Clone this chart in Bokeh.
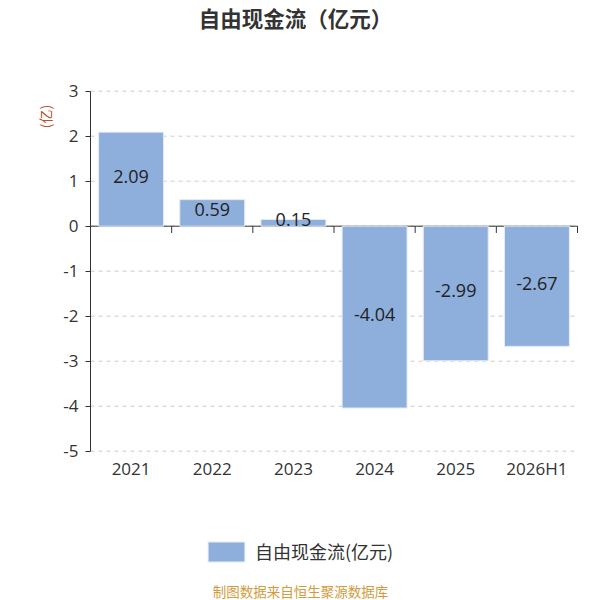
from bokeh.plotting import figure
from bokeh.models import (Range1d, Legend, LegendItem, ColumnDataSource, FixedTicker, Label)
from bokeh.core.properties import value
from bokeh.embed import file_html
from bokeh.resources import INLINE

categories = ["2021", "2022", "2023", "2024", "2025", "2026H1"]
values = [2.09, 0.59, 0.15, -4.04, -2.99, -2.67]
value_labels = ["2.09", "0.59", "0.15", "-4.04", "-2.99", "-2.67"]
y_ticks = [-5, -4, -3, -2, -1, 0, 1, 2, 3]
title_text = "自由现金流（亿元）"
series_name = "自由现金流(亿元)"
unit_text = "(亿)"
source_text = "制图数据来自恒生聚源数据库"

W = H = 600
# pixel placement of the plotting area inside the canvas
PLOT_LEFT, PLOT_RIGHT, PLOT_TOP, PLOT_BOTTOM = 90, 577, 90.7, 450.7

n = len(categories)
xs = list(range(n))
src = ColumnDataSource(dict(x=xs, top=values, mid=[v / 2 for v in values], lab=value_labels))

x0, x1 = -0.5, n - 0.5
y0, y1 = y_ticks[0], y_ticks[-1]
xpx = (PLOT_RIGHT - PLOT_LEFT) / (x1 - x0)
ypx = (PLOT_BOTTOM - PLOT_TOP) / (y1 - y0)
x_range = Range1d(x0 - PLOT_LEFT / xpx, x1 + (W - PLOT_RIGHT) / xpx)
y_range = Range1d(y0 - (H - PLOT_BOTTOM) / ypx, y1 + PLOT_TOP / ypx)

p = figure(width=W, height=H, output_backend="svg", toolbar_location=None, title=None,
           x_range=x_range, y_range=y_range,
           min_border_left=0, min_border_right=0, min_border_top=0, min_border_bottom=0)
p.outline_line_color = None
p.background_fill_color = "white"
p.border_fill_color = "white"
p.xgrid.visible = False
p.ygrid.visible = False

# dashed horizontal grid lines across the plotting area
p.segment(x0=[x0] * len(y_ticks), y0=y_ticks, x1=[x1] * len(y_ticks), y1=y_ticks,
          line_color="#cccccc", line_dash="4 4", line_width=1)

# y axis
p.yaxis.fixed_location = x0
p.yaxis.ticker = FixedTicker(ticks=y_ticks)
p.yaxis.bounds = (y0, y1)
p.yaxis.major_label_overrides = {t: str(t) for t in y_ticks}
p.yaxis.axis_line_color = "#333333"
p.yaxis.major_tick_line_color = "#333333"
p.yaxis.major_tick_out = 5
p.yaxis.major_tick_in = 0
p.yaxis.minor_tick_line_color = None
p.yaxis.major_label_text_font = "Open Sans"
p.yaxis.major_label_text_font_size = "17px"
p.yaxis.major_label_text_color = "#333333"
p.yaxis.major_label_standoff = 7

# x axis (category labels under the plotting area)
p.xaxis.fixed_location = y0
p.xaxis.ticker = FixedTicker(ticks=xs)
p.xaxis.major_label_overrides = {i: c for i, c in zip(xs, categories)}
p.xaxis.axis_line_color = None
p.xaxis.major_tick_line_color = None
p.xaxis.minor_tick_line_color = None
p.xaxis.major_label_text_font = "Open Sans"
p.xaxis.major_label_text_font_size = "17px"
p.xaxis.major_label_text_color = "#333333"
p.xaxis.major_label_standoff = 0

# zero axis line + boundary ticks
bounds = [i - 0.5 for i in range(n + 1)]
p.segment(x0=[x0], y0=[0], x1=[x1], y1=[0], line_color="#333333", line_width=1)
p.segment(x0=bounds, y0=[0] * len(bounds), x1=bounds, y1=[-0.15] * len(bounds),
          line_color="#333333", line_width=1)

bars = p.vbar(x="x", top="top", bottom=0, width=0.8, source=src,
              fill_color="#8eaedc", line_color="#e4ebf6", line_width=1)

p.text(x="x", y="mid", text="lab", source=src, text_align="center", text_baseline="middle",
       y_offset=-3, text_font=value("Open Sans"), text_font_size="18px", text_color="#222222")

# title
p.add_layout(Label(x=295, y=H - 17, x_units="screen", y_units="screen", text=title_text,
                   text_align="center", text_baseline="middle",
                   text_font="Noto Sans CJK SC", text_font_size="21.5px",
                   text_font_style="bold", text_color="#333333"))

# unit label
p.add_layout(Label(x=44.5, y=H - 116, x_units="screen", y_units="screen", text=unit_text,
                   angle=1.5708, text_align="center", text_baseline="middle",
                   text_font="Noto Sans CJK SC", text_font_size="14px", text_color="#b5532f"))

# legend (area glyph is drawn inset by 10% of its box)
legend = Legend(items=[LegendItem(label=series_name, renderers=[bars])],
                location=(203, H - 564), orientation="horizontal",
                glyph_width=46, glyph_height=25, label_height=25, padding=0, margin=0,
                label_standoff=6, border_line_color=None, background_fill_alpha=0,
                label_text_font="Noto Sans CJK SC", label_text_font_size="18px",
                label_text_color="#333333")
p.add_layout(legend, "center")

# source note
p.add_layout(Label(x=300, y=H - 590, x_units="screen", y_units="screen", text=source_text,
                   text_align="center", text_baseline="middle",
                   text_font="Noto Sans CJK SC", text_font_size="13.5px", text_color="#d29c3c"))

open("out.html", "w").write(file_html(p, INLINE))
